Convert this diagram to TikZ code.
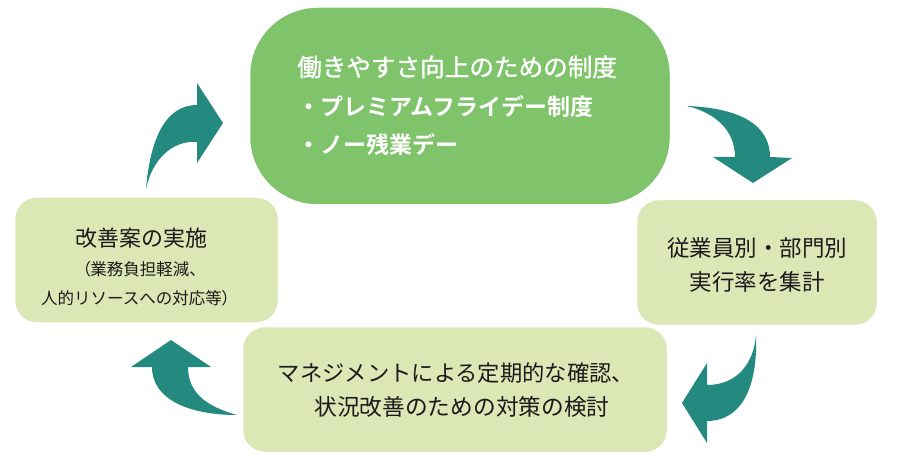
\documentclass[tikz,border=0pt]{standalone}
\usepackage{fontspec}
\setmainfont{Noto Sans CJK JP}[BoldFont={Noto Sans CJK JP Bold}]
\newfontfamily\proptxt{Noto Sans CJK JP}[RawFeature={+palt}]
\newfontfamily\medtxt{Noto Sans CJK JP}[FakeBold=1.2]
\definecolor{topgreen}{HTML}{7FC36B}
\definecolor{lightgreen}{HTML}{DBE8B6}
\definecolor{teal}{HTML}{24897F}
\definecolor{ink}{HTML}{1A1A1A}
\tikzset{
  box/.style={draw=white, line width=1.5pt, fill=lightgreen, rounded corners=22pt, inner sep=0pt},
  bigbox/.style={draw=white, line width=1.5pt, fill=topgreen, rounded corners=68pt, inner sep=0pt},
  txt/.style={text=ink, inner sep=0pt, anchor=center},
  wtxt/.style={text=white, inner sep=0pt, anchor=west},
  cyc/.style={fill=teal, draw=none}
}
\begin{document}
\begin{tikzpicture}[x=1pt,y=-1pt]
\useasboundingbox (0,0) rectangle (900,473);
% boxes
\node[box, minimum width=264pt, minimum height=126pt] (left) at (146.5,260) {};
\node[box, minimum width=241pt, minimum height=126pt] (right) at (757,262.5) {};
\node[box, minimum width=425pt, minimum height=126pt] (bottom) at (455,389.5) {};
\node[bigbox, minimum width=421pt, minimum height=198pt] (top) at (460,106) {};
% top text
\node[wtxt, font=\medtxt\fontsize{24.6}{24.6}\selectfont] (t1) at (297,67) {働きやすさ向上のための制度};
\node[wtxt, font=\bfseries\fontsize{23}{23}\selectfont] (t2) at (297,107) {・プレミアムフライデー制度};
\node[wtxt, font=\bfseries\fontsize{23}{23}\selectfont] (t3) at (297,145) {・ノー残業デー};
% left text
\node[txt, font=\fontsize{22}{22}\selectfont] (l1) at (141,238) {改善案の実施};
\node[txt, anchor=west, font=\fontsize{16.5}{16.5}\selectfont] (l2) at (82,269) {{\proptxt （}業務負担軽減、};
\node[txt, anchor=west, font=\fontsize{16.5}{16.5}\selectfont] (l3) at (41,298) {人的リソースへの対応等{\proptxt ）}};
% right text
\node[txt, font=\fontsize{22.5}{22.5}\selectfont] (r1) at (757,248) {従業員別・部門別};
\node[txt, font=\fontsize{22.5}{22.5}\selectfont] (r2) at (757,282) {実行率を集計};
% bottom text
\node[txt, font=\fontsize{22.3}{22.3}\selectfont] (b1) at (456,373) {マネジメントによる定期的な確認、};
\node[txt, font=\fontsize{22.7}{22.7}\selectfont] (b2) at (462,407) {状況改善のための対策の検討};
% arrows
\fill[cyc] (146,189) .. controls (150,140) and (165,105) .. (197,105) -- (197,83) -- (223,123) -- (197,163) -- (197,142) .. controls (172,140) and (152,160) .. (146,189) -- cycle;
\fill[cyc] (687,106) .. controls (740,108) and (770,125) .. (770,157) -- (792,158) -- (753,183) -- (713,157) -- (735,157) .. controls (735,128) and (712,112) .. (687,106) -- cycle;
\fill[cyc] (756,335) .. controls (758,390) and (740,421) .. (707,421) -- (707,443) -- (682,403) -- (707,363) -- (707,385) .. controls (738,385) and (754,362) .. (756,335) -- cycle;
\fill[cyc] (237,415) .. controls (190,415) and (152,400) .. (152,367) -- (131,367) -- (171,340) -- (211,367) -- (188,367) .. controls (188,392) and (205,406) .. (237,415) -- cycle;
\end{tikzpicture}
\end{document}
